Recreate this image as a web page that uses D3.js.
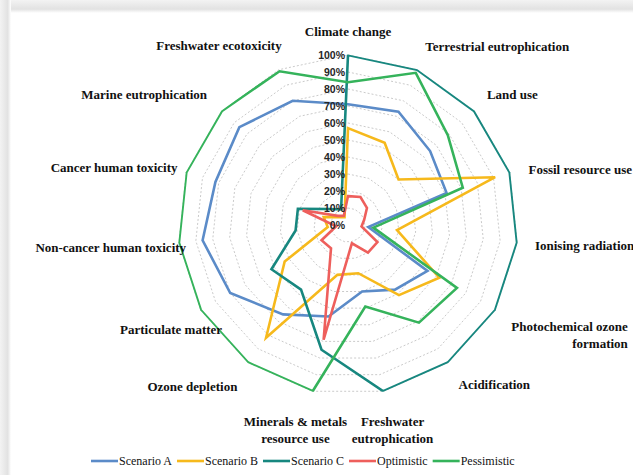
<!DOCTYPE html>
<html>
<head>
<meta charset="utf-8">
<script src="https://cdn.jsdelivr.net/npm/d3@7"></script>
<style>
    body { margin: 0; background: #fff; }
    svg { display: block; }
</style>
</head>
<body>
<script>
// impact categories, clockwise from the top
var categories = ["Climate change", "Terrestrial eutrophication", "Land use",
    "Fossil resource use", "Ionising radiation",
    "Photochemical ozone formation", "Acidification",
    "Freshwater eutrophication", "Minerals & metals resource use",
    "Ozone depletion", "Particulate matter", "Non-cancer human toxicity",
    "Cancer human toxicity", "Marine eutrophication",
    "Freshwater ecotoxicity"];

// values in % of the max
var scenarioA   = [71, 73, 65, 61, 12, 54, 47, 40, 55, 65, 80, 86, 82, 86, 80];
var scenarioB   = [57, 53, 40, 91, 29, 62, 51, 29, 30, 82, 43, 12, 15, 7, 5];
var scenarioC   = [100, 100, 100, 100, 100, 100, 100, 100, 75, 47, 52, 31, 31, 14, 10];
var optimistic  = [17, 18, 15, 10, 8, 20, 20, 11, 69, 17, 18, 7, 28, 8, 6];
var pessimistic = [84, 98, 79, 71, 15, 74, 71, 49, 100, 100, 100, 100, 100, 100, 99];

var seriesNames = ["Scenario A", "Scenario B", "Scenario C", "Optimistic", "Pessimistic"];
var tickValues = [0, 10, 20, 30, 40, 50, 60, 70, 80, 90, 100];

var colors = ["#5b8bc8", "#f6b91c", "#17877f", "#ee5f5c", "#35b35b"];

var width = 633,
    height = 475,
    cx = 348,
    cy = 225,
    radius = 170;

var svg = d3.select("body").append("svg")
    .attr("width", width)
    .attr("height", height);

var defs = svg.append("defs");

// soft grey edge at top and left, like the scanned figure
var shadeTop = defs.append("linearGradient").attr("id", "shadeTop")
    .attr("x1", 0).attr("y1", 0).attr("x2", 0).attr("y2", 1);
shadeTop.append("stop").attr("offset", "0%").attr("stop-color", "#f3f3f3");
shadeTop.append("stop").attr("offset", "70%").attr("stop-color", "#e2e2e2");
shadeTop.append("stop").attr("offset", "100%").attr("stop-color", "#ffffff");
var shadeLeft = defs.append("linearGradient").attr("id", "shadeLeft")
    .attr("x1", 0).attr("y1", 0).attr("x2", 1).attr("y2", 0);
shadeLeft.append("stop").attr("offset", "0%").attr("stop-color", "#f3f3f3");
shadeLeft.append("stop").attr("offset", "70%").attr("stop-color", "#e2e2e2");
shadeLeft.append("stop").attr("offset", "100%").attr("stop-color", "#ffffff");

svg.append("rect").attr("width", width).attr("height", 13)
    .attr("fill", "url(#shadeTop)");
svg.append("rect").attr("width", 11).attr("height", height)
    .attr("fill", "url(#shadeLeft)");

var g = svg.append("g")
    .attr("transform", "translate(" + cx + "," + cy + ")");

var r = d3.scaleLinear()
    .domain([0, 100])
    .range([0, radius]);

var angle = d3.scaleLinear()
    .domain([0, categories.length])
    .range([0, 2 * Math.PI]);

var line = d3.lineRadial()
    .angle(function(d, i) { return angle(i); })
    .radius(function(d) { return r(d); })
    .curve(d3.curveLinearClosed);

function ring(v) {
    return line(categories.map(function() { return v; }));
}

// series are cut at the outer ring
defs.append("clipPath").attr("id", "plotClip")
    .append("path")
    .attr("d", d3.lineRadial()
        .angle(function(d, i) { return angle(i); })
        .radius(radius + 0.6)
        .curve(d3.curveLinearClosed)(categories));

// dashed grid rings
g.selectAll(".ring")
    .data(tickValues.filter(function(d) { return d > 0; }))
    .enter().append("path")
    .attr("class", "ring")
    .attr("d", ring)
    .attr("fill", "none")
    .attr("stroke", "#c4c4c4")
    .attr("stroke-width", 0.9)
    .attr("stroke-dasharray", "2,2");

var series = [scenarioA, scenarioB, scenarioC, optimistic, pessimistic]
    .map(function(vals, i) {
        return {name: seriesNames[i], values: vals, color: colors[i]};
    });

g.append("g")
    .attr("clip-path", "url(#plotClip)")
    .selectAll(".series")
    .data(series)
    .enter().append("path")
    .attr("class", "series")
    .attr("d", function(d) { return line(d.values); })
    .attr("fill", "none")
    .attr("stroke", function(d) { return d.color; })
    .attr("stroke-width", 2.6)
    .attr("stroke-linejoin", "miter");

// % ticks up the first axis
g.selectAll(".tick")
    .data(tickValues)
    .enter().append("text")
    .attr("class", "tick")
    .attr("x", -3)
    .attr("y", function(d) { return -r(d); })
    .attr("dy", "0.35em")
    .attr("text-anchor", "end")
    .attr("font-family", "Liberation Sans, Arial, sans-serif")
    .attr("font-weight", "bold")
    .attr("font-size", "10.5px")
    .attr("fill", "#262626")
    .text(function(d) { return d + "%"; });

// category labels: anchor and small nudge from a point just outside the rim
var labelPlace = [
    ["middle", 0, 1], ["start", -2, 0], ["start", -6, 0], ["start", -5, 5],
    ["start", -7, 0], ["end", 111, 4], ["start", -4, 2], ["middle", 4, 6],
    ["middle", -12, 6], ["end", 4, 4], ["end", 43, 7], ["end", 32, 2],
    ["end", 15, 3], ["end", 4, 0], ["end", 13, -1]];

function wrapLabel(name) {
    if (name === "Photochemical ozone formation") return ["Photochemical ozone", "formation"];
    if (name === "Minerals & metals resource use") return ["Minerals & metals", "resource use"];
    if (name === "Freshwater eutrophication") return ["Freshwater", "eutrophication"];
    return [name];
}

var labels = g.selectAll(".label")
    .data(categories)
    .enter().append("text")
    .attr("class", "label")
    .attr("text-anchor", function(d, i) { return labelPlace[i][0]; })
    .attr("font-family", "Liberation Serif, Times New Roman, serif")
    .attr("font-weight", "bold")
    .attr("font-size", "13px")
    .attr("fill", "#111");

labels.each(function(d, i) {
    var x = Math.sin(angle(i)) * (radius + 25) + labelPlace[i][1],
        y = -Math.cos(angle(i)) * (radius + 25) + labelPlace[i][2];
    d3.select(this).selectAll("tspan")
        .data(wrapLabel(d))
        .enter().append("tspan")
        .attr("x", x)
        .attr("y", function(t, j) { return y + j * 16.5; })
        .attr("dy", "0.35em")
        .text(function(t) { return t; });
});

// legend along the bottom
var legend = svg.append("g")
    .attr("transform", "translate(91,461)");
var lx = 0;
series.forEach(function(s) {
    legend.append("line")
        .attr("x1", lx).attr("x2", lx + 27)
        .attr("y1", 0).attr("y2", 0)
        .attr("stroke", s.color)
        .attr("stroke-width", 2.6);
    var t = legend.append("text")
        .attr("x", lx + 28)
        .attr("dy", "0.35em")
        .attr("font-family", "Liberation Serif, Times New Roman, serif")
        .attr("font-size", "12px")
        .attr("fill", "#111")
        .text(s.name);
    lx += 28 + t.node().getComputedTextLength() + 5;
});
</script>
</body>
</html>
